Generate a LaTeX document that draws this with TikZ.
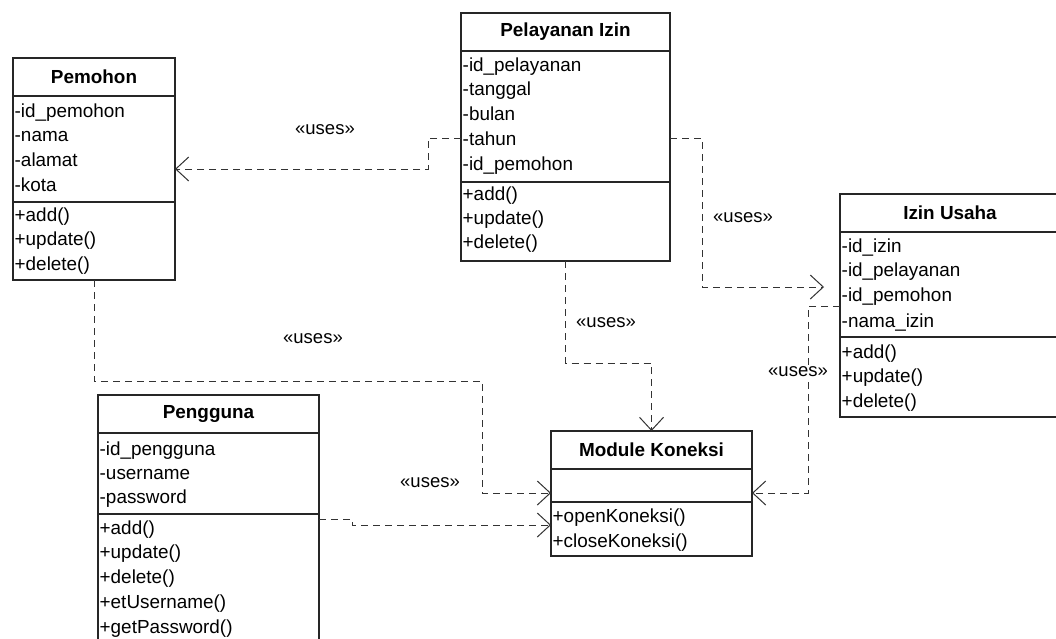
\documentclass[tikz,border=0pt]{standalone}
\usepackage{fontspec}
\setmainfont{Liberation Sans}
\usetikzlibrary{arrows.meta,calc}
\begin{document}
\begin{tikzpicture}[x=1pt,y=-1pt,
  classbox/.style={draw=black!85,line width=1.4pt,inner sep=0pt,outer sep=0pt,anchor=north west},
  sepline/.style={draw=black!85,line width=1.4pt},
  hdr/.style={font=\fontsize{18.9}{22}\selectfont\bfseries,inner sep=0pt},
  item/.style={font=\fontsize{18.9}{22}\selectfont,inner sep=0pt,anchor=base west},
  lbl/.style={font=\fontsize{18.5}{22}\selectfont,inner sep=1.5pt},
  uses/.style={draw=black!80,line width=1pt,dash pattern=on 7pt off 5pt,
    -{Straight Barb[length=13pt,width=24pt,line width=1pt]}}
]
\useasboundingbox (0,0) rectangle (1056,638);
\clip (0,0) rectangle (1056,638);
\fill[white] (0,0) rectangle (1056,638);

% ---------- Pemohon ----------
\node[classbox,minimum width=162pt,minimum height=222pt] (pem) at (13,58) {};
\draw[sepline] (13,96) -- (175,96);
\draw[sepline] (13,202) -- (175,202);
\node[hdr] (pemh) at (94,77) {Pemohon};
\node[item] (pem1) at (14.5,117) {-id\_pemohon};
\node[item] (pem2) at (14.5,141) {-nama};
\node[item] (pem3) at (14.5,166.5) {-alamat};
\node[item] (pem4) at (14.5,191) {-kota};
\node[item] (pem5) at (14.5,221) {+add()};
\node[item] (pem6) at (14.5,245.5) {+update()};
\node[item] (pem7) at (14.5,270) {+delete()};

% ---------- Pelayanan Izin ----------
\node[classbox,minimum width=209pt,minimum height=248pt] (pel) at (461,13) {};
\draw[sepline] (461,51) -- (670,51);
\draw[sepline] (461,182) -- (670,182);
\node[hdr] (pelh) at (565.5,32) {Pelayanan Izin};
\node[item] (pel1) at (462.5,71) {-id\_pelayanan};
\node[item] (pel2) at (462.5,95) {-tanggal};
\node[item] (pel3) at (462.5,120) {-bulan};
\node[item] (pel4) at (462.5,145) {-tahun};
\node[item] (pel5) at (462.5,170) {-id\_pemohon};
\node[item] (pel6) at (462.5,200) {+add()};
\node[item] (pel7) at (462.5,224) {+update()};
\node[item] (pel8) at (462.5,248) {+delete()};

% ---------- Izin Usaha ----------
\node[classbox,minimum width=220pt,minimum height=223pt] (izin) at (840,194) {};
\draw[sepline] (840,232) -- (1060,232);
\draw[sepline] (840,337) -- (1060,337);
\node[hdr] (izinh) at (950,213) {Izin Usaha};
\node[item] (izin1) at (841.5,252) {-id\_izin};
\node[item] (izin2) at (841.5,276) {-id\_pelayanan};
\node[item] (izin3) at (841.5,301) {-id\_pemohon};
\node[item] (izin4) at (841.5,327) {-nama\_izin};
\node[item] (izin5) at (841.5,358) {+add()};
\node[item] (izin6) at (841.5,382) {+update()};
\node[item] (izin7) at (841.5,407) {+delete()};

% ---------- Pengguna ----------
\node[classbox,minimum width=221pt,minimum height=260pt] (peng) at (98,395) {};
\draw[sepline] (98,433) -- (319,433);
\draw[sepline] (98,514) -- (319,514);
\node[hdr] (pengh) at (208.5,414) {Pengguna};
\node[item] (peng1) at (99.5,455) {-id\_pengguna};
\node[item] (peng2) at (99.5,479) {-username};
\node[item] (peng3) at (99.5,503) {-password};
\node[item] (peng4) at (99.5,534) {+add()};
\node[item] (peng5) at (99.5,558) {+update()};
\node[item] (peng6) at (99.5,583) {+delete()};
\node[item] (peng7) at (99.5,608) {+etUsername()};
\node[item] (peng8) at (99.5,633) {+getPassword()};

% ---------- Module Koneksi ----------
\node[classbox,minimum width=201pt,minimum height=125pt] (mod) at (551,431) {};
\draw[sepline] (551,469) -- (752,469);
\draw[sepline] (551,502) -- (752,502);
\node[hdr] (modh) at (651.5,450) {Module Koneksi};
\node[item] (mod1) at (552.5,522) {+openKoneksi()};
\node[item] (mod2) at (552.5,547) {+closeKoneksi()};

% ---------- connectors ----------
\coordinate (a1) at (428,138);
\coordinate (a2) at (428,169);
\draw[uses] (pel.west |- a1) -- (a1) -- (a2) -- (pem.east |- a2);

\coordinate (b1) at (702,138);
\coordinate (b2) at (702,287);
\coordinate (b3) at (824,287);
\draw[uses] (pel.east |- b1) -- (b1) -- (b2) -- (b3);

\coordinate (c1) at (94,381);
\coordinate (c2) at (482,381);
\coordinate (c3) at (482,493);
\draw[uses] (pem.south) -- (c1) -- (c2) -- (c3) -- (mod.west |- c3);

\coordinate (d1) at (565.5,363);
\coordinate (d2) at (651.5,363);
\draw[uses] (pel.south) -- (d1) -- (d2) -- (mod.north);

\coordinate (e1) at (352,519);
\coordinate (e2) at (352,525);
\draw[uses] (peng.east |- e1) -- (e1) -- (e2) -- (mod.west |- e2);

\coordinate (f1) at (808,306);
\coordinate (f2) at (808,493);
\draw[uses] (izin.west |- f1) -- (f1) -- (f2) -- (mod.east |- f2);

% ---------- labels ----------
\node[lbl] (u1) at (325,130) {«uses»};
\node[lbl] (u2) at (743,218) {«uses»};
\node[lbl] (u3) at (313,339) {«uses»};
\node[lbl] (u4) at (430,483) {«uses»};
\node[lbl] (u5) at (606,323) {«uses»};
\node[lbl,fill=white] (u6) at (798,372) {«uses»};
\end{tikzpicture}
\end{document}
